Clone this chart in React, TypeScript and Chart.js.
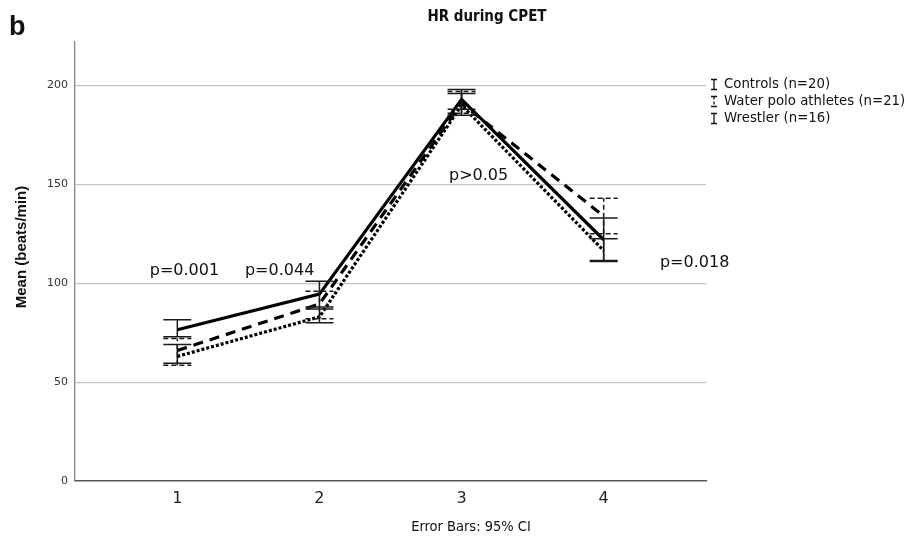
import React, { useEffect, useRef } from "react";
import { Chart, registerables } from "chart.js";

Chart.register(...registerables);

const categories = [1, 2, 3, 4];
const seriesNames = ["Controls (n=20)", "Water polo athletes (n=21)", "Wrestler (n=16)"];
const controlsMean = [76.5, 94.5, 193, 122];
const controlsLow = [73, 88, 188, 111.5];
const controlsHigh = [81.5, 101, 198, 133];
const waterPoloMean = [66, 89.5, 191, 134];
const waterPoloLow = [58.5, 82, 186, 125];
const waterPoloHigh = [72, 96, 197, 143];
const wrestlerMean = [63, 83, 190, 116.5];
const wrestlerLow = [59.5, 80, 185, 111];
const wrestlerHigh = [69, 87, 196, 122.5];
const pLabels = ["p=0.001", "p=0.044", "p>0.05", "p=0.018"];
const pLabelX = [1.05, 1.72, 3.12, 4.64];
const pLabelY = [106.5, 106.5, 154.5, 110.5];
const yTicks = [0, 50, 100, 150, 200];

const dashes = [[], [10, 7], [3, 2]];
const barDashes = [[], [5, 3], []];

export default function App() {
  const ref = useRef<HTMLCanvasElement | null>(null);
  useEffect(() => {
    document.body.style.margin = "0";
    const canvas = ref.current!;
    const means = [controlsMean, waterPoloMean, wrestlerMean];
    const lows = [controlsLow, waterPoloLow, wrestlerLow];
    const highs = [controlsHigh, waterPoloHigh, wrestlerHigh];

    const overlay = {
      id: "overlay",
      afterDatasetsDraw(chart: any) {
        const ctx = chart.ctx;
        const xs = chart.scales.x;
        const ys = chart.scales.y;
        ctx.save();
        // error bars
        ctx.strokeStyle = "#1a1a1a";
        ctx.lineWidth = 1.5;
        for (let s = 0; s < 3; s++) {
          ctx.setLineDash(barDashes[s]);
          categories.forEach((c, i) => {
            const px = xs.getPixelForValue(c);
            const lo = ys.getPixelForValue(lows[s][i]);
            const hi = ys.getPixelForValue(highs[s][i]);
            ctx.beginPath();
            ctx.moveTo(px, lo);
            ctx.lineTo(px, hi);
            ctx.moveTo(px - 14, lo);
            ctx.lineTo(px + 14, lo);
            ctx.moveTo(px - 14, hi);
            ctx.lineTo(px + 14, hi);
            ctx.stroke();
          });
        }
        ctx.setLineDash([]);
        // p labels
        ctx.fillStyle = "#111";
        ctx.font = "16px 'DejaVu Sans'";
        ctx.textAlign = "center";
        ctx.textBaseline = "middle";
        pLabels.forEach((t, i) => {
          ctx.fillText(t, xs.getPixelForValue(pLabelX[i]), ys.getPixelForValue(pLabelY[i]));
        });
        // legend
        ctx.textAlign = "left";
        ctx.font = "13.3px 'DejaVu Sans'";
        const lx = chart.chartArea.right + 8;
        const top = ys.getPixelForValue(200) - 1;
        seriesNames.forEach((n, i) => {
          const y = top + i * 17;
          ctx.strokeStyle = "#111";
          ctx.lineWidth = 1.3;
          ctx.setLineDash(i === 1 ? [3, 2] : []);
          ctx.beginPath();
          ctx.moveTo(lx, y - 5);
          ctx.lineTo(lx, y + 5);
          ctx.stroke();
          ctx.setLineDash([]);
          ctx.beginPath();
          ctx.moveTo(lx - 3, y - 5);
          ctx.lineTo(lx + 3, y - 5);
          ctx.moveTo(lx - 3, y + 5);
          ctx.lineTo(lx + 3, y + 5);
          ctx.stroke();
          ctx.fillText(n, lx + 10, y);
        });
        // title & extra text
        ctx.textAlign = "center";
        ctx.font = "bold 15px 'Liberation Sans Narrow', 'DejaVu Sans Condensed'";
        ctx.fillText("HR during CPET", 487, 17);
        ctx.font = "14.5px 'Liberation Sans Narrow', 'DejaVu Sans Condensed'";
        ctx.fillText("Error Bars: 95% CI", 471, 527);
        ctx.textAlign = "left";
        ctx.font = "bold 27px 'Liberation Sans'";
        ctx.fillText("b", 9, 28);
        ctx.save();
        ctx.translate(22, 247);
        ctx.rotate(-Math.PI / 2);
        ctx.textAlign = "center";
        ctx.font = "bold 15px 'Liberation Sans'";
        ctx.fillText("Mean (beats/min)", 0, 0);
        ctx.restore();
        ctx.restore();
      },
    };

    const chart = new Chart(canvas, {
      type: "line",
      data: {
        datasets: seriesNames.map((n, s) => ({
          label: n,
          data: categories.map((c, i) => ({ x: c, y: means[s][i] })),
          borderColor: "#000",
          borderWidth: s === 2 ? 3.2 : 3.2,
          borderDash: dashes[s],
          pointRadius: 0,
          tension: 0,
          fill: false,
        })),
      },
      options: {
        responsive: false,
        animation: false,
        layout: { padding: { top: 42, right: 208, left: 0, bottom: 0 } },
        plugins: { legend: { display: false }, tooltip: { enabled: false }, title: { display: false } },
        scales: {
          x: {
            type: "linear",
            min: 0.28,
            max: 4.72,
            afterBuildTicks: (sc: any) => {
              sc.ticks = categories.map((v) => ({ value: v }));
            },
            afterFit: (sc: any) => {
              sc.height = 57;
            },
            grid: { display: false, drawTicks: false },
            border: { display: true, color: "#555", width: 1.5 },
            ticks: { padding: 8, color: "#222", font: { family: "DejaVu Sans", size: 16 }, callback: (v: any) => String(v) },
          },
          y: {
            type: "linear",
            min: 0,
            max: 222,
            afterBuildTicks: (sc: any) => {
              sc.ticks = yTicks.map((v) => ({ value: v }));
            },
            afterFit: (sc: any) => {
              sc.width = 75;
            },
            grid: {
              drawTicks: false,
              color: (c: any) => (c.tick && c.tick.value === 0 ? "rgba(0,0,0,0)" : "#c4c4c4"),
              lineWidth: 1.2,
            },
            border: { display: true, color: "#888", width: 1.3 },
            ticks: { padding: 7, color: "#333", font: { family: "DejaVu Sans", size: 11 } },
          },
        },
      },
      plugins: [overlay],
    });
    return () => chart.destroy();
  }, []);
  return <canvas ref={ref} width={914} height={538} style={{ display: "block" }} />;
}
